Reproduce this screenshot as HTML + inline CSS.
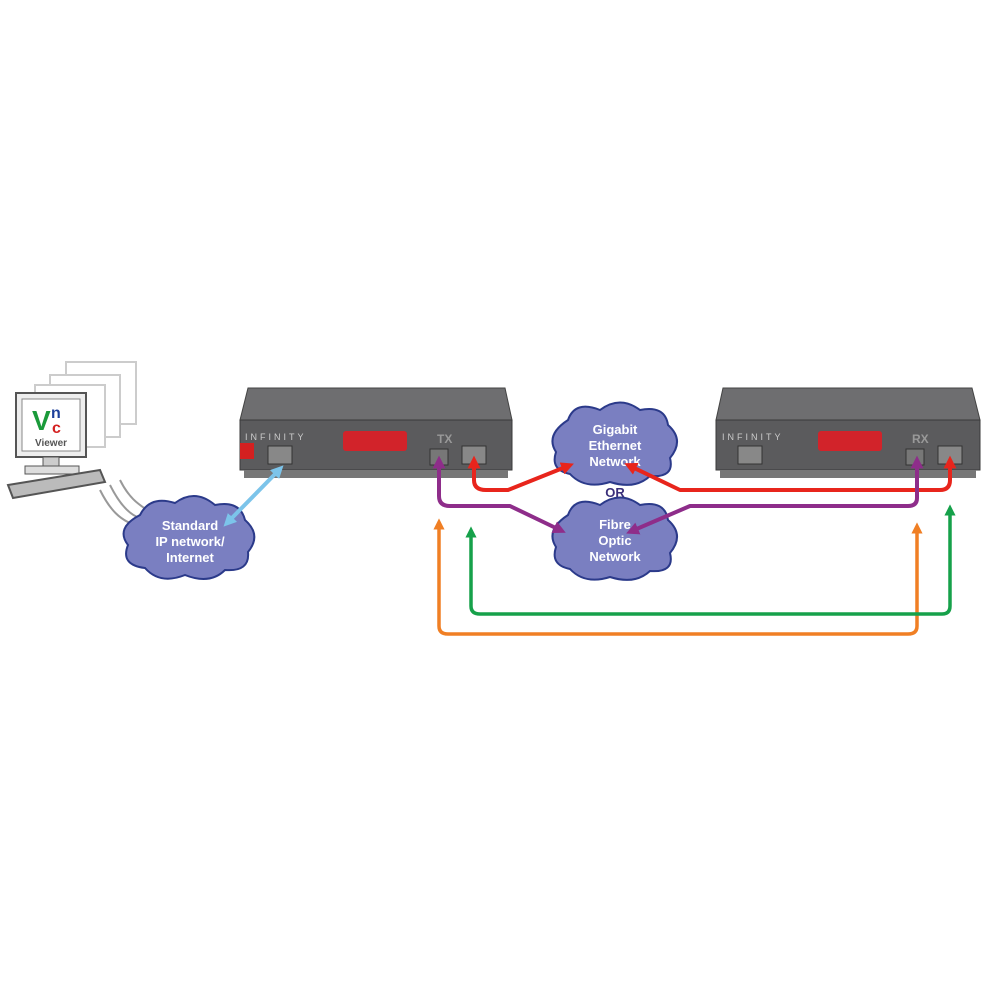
<!DOCTYPE html>
<html><head><style>body{margin:0;background:#fff}svg{display:block}</style></head><body>
<svg width="1000" height="1000" viewBox="0 0 1000 1000" xmlns="http://www.w3.org/2000/svg" font-family="Liberation Sans, sans-serif">
<defs>
<marker id="mb" markerWidth="3.2" markerHeight="3.2" refX="1.6" refY="1.6" orient="auto-start-reverse" markerUnits="strokeWidth"><path d="M0,0 L3.2,1.6 L0,3.2 Z" fill="#7cc4ea"/></marker>
<marker id="mr" markerWidth="3.2" markerHeight="3.2" refX="1.6" refY="1.6" orient="auto-start-reverse" markerUnits="strokeWidth"><path d="M0,0 L3.2,1.6 L0,3.2 Z" fill="#e8251c"/></marker>
<marker id="mp" markerWidth="3.2" markerHeight="3.2" refX="1.6" refY="1.6" orient="auto-start-reverse" markerUnits="strokeWidth"><path d="M0,0 L3.2,1.6 L0,3.2 Z" fill="#8e2d8a"/></marker>
<marker id="mo" markerWidth="3.2" markerHeight="3.2" refX="1.6" refY="1.6" orient="auto-start-reverse" markerUnits="strokeWidth"><path d="M0,0 L3.2,1.6 L0,3.2 Z" fill="#f07f24"/></marker>
<marker id="mg" markerWidth="3.2" markerHeight="3.2" refX="1.6" refY="1.6" orient="auto-start-reverse" markerUnits="strokeWidth"><path d="M0,0 L3.2,1.6 L0,3.2 Z" fill="#16a14a"/></marker>
</defs>
<!-- computers -->
<g fill="#fff" stroke="#ccc" stroke-width="2">
<rect x="66" y="362" width="70" height="62"/>
<rect x="50" y="375" width="70" height="62"/>
<rect x="35" y="385" width="70" height="62"/>
</g>
<g stroke="#999" stroke-width="2" fill="none">
<path d="M100,490 C110,510 120,520 135,525"/><path d="M110,485 C120,505 130,515 140,518"/><path d="M120,480 C130,500 140,505 150,512"/>
</g>
<rect x="16" y="393" width="70" height="64" fill="#eee" stroke="#555" stroke-width="2"/>
<rect x="22" y="399" width="58" height="52" fill="#fff" stroke="#888"/>
<text x="32" y="430" font-size="28" font-weight="bold" fill="#1a9a3a">V</text>
<text x="51" y="418" font-size="16" font-weight="bold" fill="#1c3f9a">n</text>
<text x="52" y="433" font-size="16" font-weight="bold" fill="#d42020">c</text>
<text x="51" y="446" font-size="10" font-weight="bold" fill="#555" text-anchor="middle">Viewer</text>
<rect x="43" y="457" width="16" height="10" fill="#ccc" stroke="#555"/>
<rect x="25" y="466" width="54" height="8" fill="#ddd" stroke="#555"/>
<path d="M8,485 L100,470 L105,482 L13,498 Z" fill="#bbb" stroke="#555" stroke-width="2"/>
<!-- TX box -->
<g>
<path d="M248,388 L505,388 L512,420 L240,420 Z" fill="#6e6e70" stroke="#444"/>
<rect x="240" y="420" width="272" height="50" fill="#5b5b5d" stroke="#3a3a3a"/>
<rect x="244" y="470" width="264" height="8" fill="#777"/>
<rect x="343" y="431" width="64" height="20" rx="3" fill="#d2232a"/>
<text x="245" y="440" font-size="9" fill="#ccc" letter-spacing="3">INFINITY</text>
<rect x="240" y="443" width="14" height="16" fill="#d42020"/>
<rect x="268" y="446" width="24" height="18" fill="#888" stroke="#333"/>
<rect x="430" y="449" width="18" height="16" fill="#777" stroke="#333"/>
<rect x="462" y="446" width="24" height="18" fill="#888" stroke="#333"/>
<text x="437" y="443" font-size="12" fill="#999" font-weight="bold">TX</text>
</g>
<!-- RX box -->
<g>
<path d="M723,388 L972,388 L980,420 L716,420 Z" fill="#6e6e70" stroke="#444"/>
<rect x="716" y="420" width="264" height="50" fill="#5b5b5d" stroke="#3a3a3a"/>
<rect x="720" y="470" width="256" height="8" fill="#777"/>
<rect x="818" y="431" width="64" height="20" rx="3" fill="#d2232a"/>
<text x="722" y="440" font-size="9" fill="#ccc" letter-spacing="3">INFINITY</text>
<rect x="738" y="446" width="24" height="18" fill="#888" stroke="#333"/>
<rect x="906" y="449" width="18" height="16" fill="#777" stroke="#333"/>
<rect x="938" y="446" width="24" height="18" fill="#888" stroke="#333"/>
<text x="912" y="443" font-size="12" fill="#999" font-weight="bold">RX</text>
</g>
<!-- clouds -->
<g fill="#7a7fc1" stroke="#2b3a8a" stroke-width="2">
<path d="M140,515 Q150,495 175,503 Q195,488 215,505 Q240,500 245,520 Q262,535 248,552 Q250,572 225,570 Q210,585 185,575 Q160,585 145,568 Q120,565 128,545 Q115,528 140,515 Z"/>
<path d="M568,420 Q575,400 600,410 Q620,395 640,410 Q665,405 668,425 Q685,440 670,458 Q675,478 650,476 Q635,490 610,482 Q585,490 570,474 Q550,470 556,452 Q545,435 568,420 Z"/>
<path d="M568,515 Q575,495 600,505 Q620,490 640,505 Q665,500 668,520 Q685,535 670,553 Q675,573 650,571 Q635,585 610,577 Q585,585 570,569 Q550,565 556,547 Q545,530 568,515 Z"/>
</g>
<g fill="#fff" font-weight="bold" font-size="13" text-anchor="middle">
<text x="190" y="530">Standard</text><text x="190" y="546">IP network/</text><text x="190" y="562">Internet</text>
<text x="615" y="434">Gigabit</text><text x="615" y="450">Ethernet</text><text x="615" y="466">Network</text>
<text x="615" y="529">Fibre</text><text x="615" y="545">Optic</text><text x="615" y="561">Network</text>
</g>
<text x="615" y="497" font-size="13" font-weight="bold" fill="#3a2f7a" text-anchor="middle">OR</text>
<!-- arrows -->
<g fill="none" stroke-width="4" stroke-linejoin="round">
<path d="M228,522 L279,470" stroke="#7cc4ea" marker-start="url(#mb)" marker-end="url(#mb)"/>
<path d="M474,462 L474,480 Q474,490 486,490 L508,490 L568,466" stroke="#e8251c" marker-start="url(#mr)" marker-end="url(#mr)"/>
<path d="M950,462 L950,480 Q950,490 940,490 L680,490 L630,466" stroke="#e8251c" marker-start="url(#mr)" marker-end="url(#mr)"/>
<path d="M439,462 L439,496 Q439,506 450,506 L510,506 L560,530" stroke="#8e2d8a" marker-start="url(#mp)" marker-end="url(#mp)"/>
<path d="M917,462 L917,498 Q917,506 908,506 L690,506 L632,531" stroke="#8e2d8a" marker-start="url(#mp)" marker-end="url(#mp)"/>
<path d="M439,524 L439,626 Q439,634 448,634 L908,634 Q917,634 917,626 L917,528" stroke="#f07f24" stroke-width="3.5" marker-start="url(#mo)" marker-end="url(#mo)"/>
<path d="M471,532 L471,606 Q471,614 480,614 L942,614 Q950,614 950,606 L950,510" stroke="#16a14a" stroke-width="3.5" marker-start="url(#mg)" marker-end="url(#mg)"/>
</g>
</svg>
</body></html>
